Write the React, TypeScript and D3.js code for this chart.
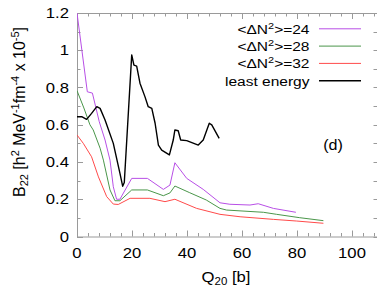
import React from 'react';
import * as d3 from 'd3';

// Q20 [b] vs B22 for three fixed <ΔN²> values and the least-energy path
const q24: [number, number][] = [
  [0, 1.2], [3.75, 0.777], [5.6, 0.77], [8.1, 0.616], [10.2, 0.518], [12, 0.41], [13.2, 0.267],
  [14.4, 0.2], [15.6, 0.2], [19.9, 0.312], [25.6, 0.312], [31.4, 0.253], [33.8, 0.276],
  [35.6, 0.396], [39.9, 0.312], [45.9, 0.253], [52, 0.181], [55.6, 0.173], [62.9, 0.169],
  [65.9, 0.176], [71.4, 0.151], [79.6, 0.13],
];
const q28: [number, number][] = [
  [0, 0.783], [2.5, 0.69], [4.7, 0.6], [5.9, 0.572], [8.4, 0.474], [9.6, 0.41], [12, 0.25],
  [13.8, 0.192], [15.6, 0.192], [19.9, 0.25], [25.6, 0.25], [31.4, 0.219], [33.8, 0.234],
  [35.6, 0.271], [41, 0.235], [47, 0.196], [52, 0.151], [54.4, 0.142], [67.8, 0.13],
  [72.6, 0.119], [81, 0.101], [89.6, 0.085],
];
const q32: [number, number][] = [
  [0, 0.545], [2.3, 0.5], [5.3, 0.428], [7.8, 0.32], [10.8, 0.214], [13.2, 0.174], [15, 0.172],
  [19.3, 0.205], [26.5, 0.205], [32, 0.187], [35.6, 0.2], [43.5, 0.151], [52, 0.119],
  [59.3, 0.106], [71.4, 0.092], [79.9, 0.083], [89.6, 0.071],
];
const leastEnergy: [number, number][] = [
  [0, 0.643], [1.7, 0.643], [3.5, 0.629], [5.3, 0.661], [7.2, 0.697], [8.4, 0.688], [10.2, 0.626],
  [13.2, 0.5], [15.6, 0.34], [16.6, 0.27], [17.2, 0.29], [19.9, 0.975], [20.7, 0.92],
  [21.7, 0.915], [22.9, 0.823], [24.7, 0.751], [25.9, 0.697], [27.2, 0.688], [28.4, 0.608],
  [29.6, 0.491], [30.8, 0.464], [33.6, 0.438], [35, 0.518], [35.6, 0.572], [36.8, 0.568],
  [37.7, 0.518], [39.9, 0.515], [44.1, 0.491], [45.9, 0.518], [48.1, 0.608], [49, 0.599],
  [51.7, 0.527],
];

const legendLabels = ['24', '28', '32'];
const xTickLabels = [0, 20, 40, 60, 80, 100];
const yTickLabels = [0, 0.2, 0.4, 0.6, 0.8, 1, 1.2];

const W = 377;
const H = 290;
const margin = { left: 77, top: 13, right: 379.5, bottom: 236.5 };
const SX = 1.15; // the source looks horizontally stretched
const FONT = 'Liberation Sans, Arial, sans-serif';
const GRAY = '#9a9a9a';

const App: React.FC = () => {
  const x = d3.scaleLinear().domain([0, 110]).range([margin.left, margin.right]);
  const y = d3.scaleLinear().domain([0, 1.2]).range([margin.bottom, margin.top]);

  const line = d3.line<[number, number]>()
    .x((d) => x(d[0]))
    .y((d) => y(d[1]));

  const series = [
    { data: q24, color: '#b84fe6', width: 1 },
    { data: q28, color: '#4a964a', width: 1 },
    { data: q32, color: '#ff4a4a', width: 1 },
    { data: leastEnergy, color: '#000000', width: 1.4 },
  ];

  const xMinor = d3.range(0, 111, 4);
  const yMinor = d3.range(0, 1.21, 0.1);

  const stretched = (tx: number, ty: number) => `translate(${tx},${ty}) scale(${SX},1)`;

  return (
    <>
      <style>{'body{margin:0}'}</style>
      <svg width={W} height={H} style={{ display: 'block', background: '#fff' }} fontFamily={FONT}>
        <defs>
          <clipPath id="plot">
            <rect x={margin.left} y={margin.top} width={margin.right - margin.left} height={margin.bottom - margin.top} />
          </clipPath>
        </defs>

        {/* ticks on all four sides */}
        <g stroke={GRAY} strokeWidth={1}>
          {xMinor.map((v) => {
            const len = v % 20 === 0 ? 6 : 3.5;
            const px = Math.round(x(v)) + 0.5;
            return (
              <g key={'xt' + v}>
                <line x1={px} x2={px} y1={margin.bottom} y2={margin.bottom - len} />
                <line x1={px} x2={px} y1={margin.top} y2={margin.top + len} />
              </g>
            );
          })}
          {yMinor.map((v, i) => {
            const len = i % 2 === 0 ? 6 : 3.5;
            const py = Math.round(y(v)) + 0.5;
            return (
              <g key={'yt' + i}>
                <line x1={margin.left} x2={margin.left + len} y1={py} y2={py} />
                <line x1={margin.right} x2={margin.right - 6} y1={py} y2={py} />
              </g>
            );
          })}
          <rect x={margin.left + 0.5} y={margin.top + 0.5} width={margin.right - margin.left} height={margin.bottom - margin.top} fill="none" />
        </g>

        <g clipPath="url(#plot)" fill="none">
          {series.map((s, i) => (
            <path key={i} d={line(s.data) ?? ''} stroke={s.color} strokeWidth={s.width} strokeLinejoin="round" />
          ))}
        </g>

        {/* axis labels */}
        <g fontSize={14.5} fill="#000">
          {yTickLabels.map((v) => (
            <text key={'yl' + v} transform={stretched(69, y(v) + 5)} textAnchor="end">
              {d3.format('~g')(v)}
            </text>
          ))}
          {xTickLabels.map((v) => (
            <text key={'xl' + v} transform={stretched(x(v), 258)} textAnchor="middle">
              {v}
            </text>
          ))}
          <text transform={stretched(226, 282)} textAnchor="middle">
            Q<tspan fontSize={10} dy={3}>20</tspan><tspan dy={-3}> [b]</tspan>
          </text>
          <text transform={`translate(24.5,112) scale(1.08,1.1) rotate(-90)`} textAnchor="middle">
            B<tspan fontSize={10} dy={3}>22</tspan>
            <tspan dy={-3}> [h</tspan><tspan fontSize={10} dy={-5}>2</tspan>
            <tspan dy={5}> MeV</tspan><tspan fontSize={10} dy={-5}>-1</tspan>
            <tspan dy={5}>fm</tspan><tspan fontSize={10} dy={-5}>-4</tspan>
            <tspan dy={5}> x 10</tspan><tspan fontSize={10} dy={-5}>-5</tspan>
            <tspan dy={5}>]</tspan>
          </text>
          <text transform={stretched(333, 150)} textAnchor="middle" fontSize={14}>(d)</text>
        </g>

        {/* legend */}
        <g fontSize={13.5}>
          {series.map((s, i) => {
            const cy = 28.8 + i * 17.3;
            return (
              <g key={'lg' + i}>
                <text transform={stretched(309.5, cy + 5)} textAnchor="end">
                  {i < 3 ? (
                    <>
                      {'<ΔN'}<tspan fontSize={9.5} dy={-5}>2</tspan>
                      <tspan dy={5}>{'>=' + legendLabels[i]}</tspan>
                    </>
                  ) : (
                    'least energy'
                  )}
                </text>
                <line x1={319} x2={361} y1={cy} y2={cy} stroke={s.color} strokeWidth={s.width} />
              </g>
            );
          })}
        </g>
      </svg>
    </>
  );
};

export default App;
